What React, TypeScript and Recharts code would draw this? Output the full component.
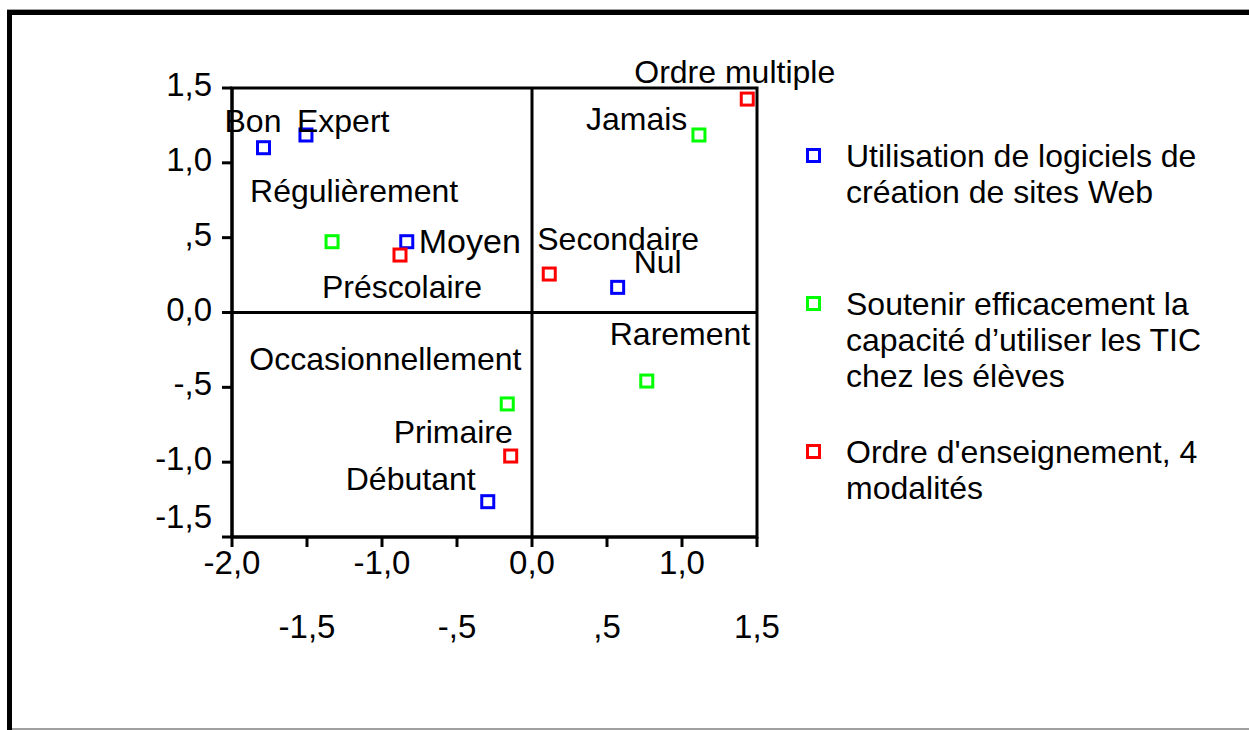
import {
  Legend,
  ReferenceArea,
  ReferenceLine,
  Scatter,
  ScatterChart,
  XAxis,
  YAxis,
} from 'recharts';

const FONT = '"Liberation Sans", Arial, Helvetica, sans-serif';

/* ─────────────────────── data ─────────────────────── */

const seriesNames = [
  'Utilisation de logiciels de création de sites Web',
  'Soutenir efficacement la capacité d’utiliser les TIC chez les élèves',
  "Ordre d'enseignement, 4 modalités",
];
const seriesColors = ['#0000ff', '#00ff00', '#ff0000'];

const usageNames = ['Bon', 'Expert', 'Moyen', 'Nul', 'Débutant'];
const usageX = [-1.79, -1.507, -0.835, 0.571, -0.295];
const usageY = [1.101, 1.186, 0.473, 0.168, -1.264];

const supportNames = ['Régulièrement', 'Jamais', 'Occasionnellement', 'Rarement'];
const supportX = [-1.333, 1.113, -0.165, 0.765];
const supportY = [0.473, 1.186, -0.611, -0.458];

const levelNames = ['Ordre multiple', 'Préscolaire', 'Secondaire', 'Primaire'];
const levelX = [1.435, -0.88, 0.115, -0.142];
const levelY = [1.426, 0.384, 0.257, -0.959];

const xTicks = [-2, -1.5, -1, -0.5, 0, 0.5, 1, 1.5];
const yTicks = [-1.5, -1, -0.5, 0, 0.5, 1, 1.5];

// where each point's caption sits relative to its marker: [dx, baseline dy, font size]
const labelPlacement: Record<string, [number, number, number]> = {
  Bon: [-39, -16, 32],
  Expert: [-9, -3, 32],
  Moyen: [12, 11, 34],
  Nul: [16, -14, 32],
  Débutant: [-142, -12, 32],
  Régulièrement: [-82, -40, 32],
  Jamais: [-113, -5, 32],
  Occasionnellement: [-258, -34, 32],
  Rarement: [-37, -36, 32],
  'Ordre multiple': [-113, -16, 32],
  Préscolaire: [-78, 43, 32],
  Secondaire: [-12, -24, 32],
  Primaire: [-117, -13, 32],
};

const toPoints = (names: string[], xs: number[], ys: number[]) =>
  names.map((name, i) => ({ name, x: xs[i], y: ys[i] }));

/* ─────────────────────── helpers ─────────────────────── */

// SPSS style numbers: 0,5 -> ",5", -0,5 -> "-,5"
function fmt(v: number) {
  if (v === 0) return '0,0';
  const s = Math.abs(v).toFixed(1).replace('.', ',');
  return (v < 0 ? '-' : '') + (Math.abs(v) < 1 ? s.slice(1) : s);
}

function XTick({ x, y, payload }: any) {
  const lower = !Number.isInteger(payload.value);
  return (
    <text x={x} y={y + (lower ? 89 : 25)} textAnchor="middle" fontSize={33} fontFamily={FONT} fill="#000">
      {fmt(payload.value)}
    </text>
  );
}

function YTick({ x, y, payload }: any) {
  const bottom = payload.value === yTicks[0];
  return (
    <text x={x} y={y + (bottom ? -9 : 8)} textAnchor="end" fontSize={33} fontFamily={FONT} fill="#000">
      {fmt(payload.value)}
    </text>
  );
}

function markerShape(color: string) {
  return (props: any) => {
    const { cx, cy, payload } = props;
    const [dx, dy, size] = labelPlacement[payload.name] ?? [8, -8, 32];
    return (
      <g>
        <rect x={cx - 6} y={cy - 6} width={12} height={12} fill="none" stroke={color} strokeWidth={3} />
        <text x={cx + dx} y={cy + dy} fontSize={size} fontFamily={FONT} fill="#000">
          {payload.name}
        </text>
      </g>
    );
  };
}

function LegendBox() {
  return (
    <div style={{ fontFamily: FONT, fontSize: 32, lineHeight: '36px', color: '#000', textAlign: 'left' }}>
      {seriesNames.map((name, i) => (
        <div key={name} style={{ position: 'relative', height: 148, paddingLeft: 49 }}>
          <div
            style={{
              position: 'absolute',
              left: 9,
              top: 10,
              width: 9,
              height: 9,
              border: `3px solid ${seriesColors[i]}`,
            }}
          />
          <div style={{ width: 372 }}>{name}</div>
        </div>
      ))}
    </div>
  );
}

/* ─────────────────────── chart ─────────────────────── */

export default function App() {
  const series = [
    toPoints(usageNames, usageX, usageY),
    toPoints(supportNames, supportX, supportY),
    toPoints(levelNames, levelX, levelY),
  ];

  return (
    <div style={{ position: 'absolute', left: 0, top: 0, width: 1249, height: 730, background: '#fff', overflow: 'hidden' }}>
      {/* outer frame */}
      <div style={{ position: 'absolute', left: 7, top: 9, width: 1242, height: 1, background: '#a0a0a0' }} />
      <div style={{ position: 'absolute', left: 7, top: 10, width: 1242, height: 5, background: '#000' }} />
      <div style={{ position: 'absolute', left: 7, top: 10, width: 5, height: 720, background: '#000' }} />
      <div style={{ position: 'absolute', left: 12, top: 728, width: 1237, height: 2, background: '#a0a0a0' }} />

      <ScatterChart width={1249} height={730} margin={{ top: 88, right: 492, bottom: 93, left: 172 }}>
        <XAxis
          type="number"
          dataKey="x"
          domain={[-2, 1.5]}
          ticks={xTicks}
          interval={0}
          height={100}
          tickSize={10}
          tickMargin={2}
          axisLine={{ stroke: '#000', strokeWidth: 3 }}
          tickLine={{ stroke: '#000', strokeWidth: 3 }}
          tick={<XTick />}
        />
        <YAxis
          type="number"
          dataKey="y"
          domain={[-1.5, 1.5]}
          ticks={yTicks}
          interval={0}
          width={60}
          tickSize={10}
          tickMargin={10}
          axisLine={{ stroke: '#000', strokeWidth: 3 }}
          tickLine={{ stroke: '#000', strokeWidth: 3 }}
          tick={<YTick />}
        />
        <ReferenceArea x1={-2} x2={1.5} y1={-1.5} y2={1.5} fill="none" fillOpacity={0} stroke="#000" strokeWidth={3} />
        <ReferenceLine x={0} stroke="#000" strokeWidth={3} />
        <ReferenceLine y={0} stroke="#000" strokeWidth={3} />
        {series.map((data, i) => (
          <Scatter
            key={seriesNames[i]}
            name={seriesNames[i]}
            data={data}
            fill={seriesColors[i]}
            shape={markerShape(seriesColors[i])}
            isAnimationActive={false}
          />
        ))}
        <Legend
          layout="horizontal"
          verticalAlign="middle"
          align="center"
          content={<LegendBox />}
          wrapperStyle={{ left: 797, top: 138, width: 440, height: 450 }}
        />
      </ScatterChart>
    </div>
  );
}
